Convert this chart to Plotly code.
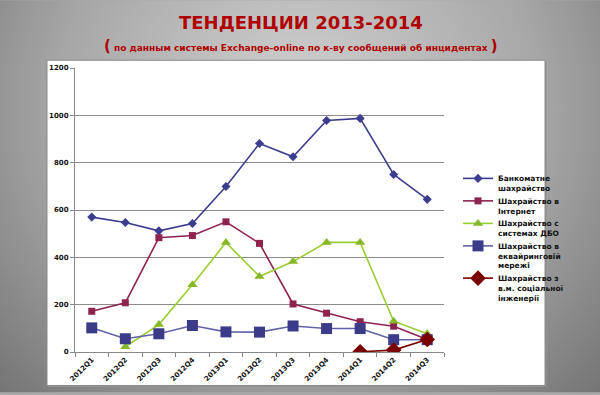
import plotly.graph_objects as go
import base64

categories = ["2012Q1", "2012Q2", "2012Q3", "2012Q4", "2013Q1", "2013Q2",
              "2013Q3", "2013Q4", "2014Q1", "2014Q2", "2014Q3"]

atm_fraud = [570, 547, 512, 543, 699, 881, 825, 978, 987, 750, 645]
internet_fraud = [172, 208, 483, 492, 550, 459, 203, 164, 128, 109, 53]
rbs_fraud = [None, 22, 116, 284, 463, 319, 382, 463, 463, 130, 77]
acquiring_fraud = [102, 56, 77, 112, 85, 84, 110, 99, 99, 52, 52]
social_fraud = [None, None, None, None, None, None, None, None, 1, 8, 53]

names = ["Банкоматне<br>шахрайство", "Шахрайство в<br>Інтернет",
         "Шахрайство с<br>системах ДБО", "Шахрайство в<br>еквайринговій<br>мережі",
         "Шахрайство з<br>в.м. соціальної<br>інженерії"]

yticks = [0, 200, 400, 600, 800, 1000, 1200]

fig = go.Figure()
styles = [
    (atm_fraud, "#3d3d8f", "#3d3d8f", "diamond", 7),
    (internet_fraud, "#8e2350", "#8e2350", "square", 7),
    (rbs_fraud, "#9acd32", "#86b82a", "triangle-up", 9),
    (acquiring_fraud, "#6262a6", "#3b3b8a", "square", 11),
    (social_fraud, "#7a0000", "#7a0000", "diamond", 12),
]
for i, ((vals, lc, mc, sym, ms), nm) in enumerate(zip(styles, names)):
    fig.add_trace(go.Scatter(
        x=categories, y=vals, name="<b>" + nm.replace("<br>", "</b><br><b>") + "</b>",
        mode="lines+markers", legendgroup=f"g{i}",
        line=dict(color=lc, width=1.6),
        marker=dict(symbol=sym, size=ms, color=mc),
        connectgaps=False,
    ))

# plot area in pixels: x 75..444, y 68.3..354.3
L, R, T, B = 75, 444, 68.3, 354.3
W, H = R - L, B - T
def px(x): return (x - L) / W
def py(y): return (B - y) / H

svg = """<svg xmlns='http://www.w3.org/2000/svg' width='600' height='395'>
<defs><radialGradient id='g' cx='300' cy='110' r='430' gradientUnits='userSpaceOnUse'>
<stop offset='0' stop-color='#d2d2d2'/><stop offset='0.55' stop-color='#a8a8a8'/>
<stop offset='1' stop-color='#707070'/></radialGradient></defs>
<rect width='600' height='395' fill='url(#g)'/></svg>"""
src = "data:image/svg+xml;base64," + base64.b64encode(svg.encode()).decode()

fig.update_layout(
    width=600, height=395,
    margin=dict(l=L, r=600 - R, t=T, b=395 - B),
    paper_bgcolor="#a8a8a8",
    plot_bgcolor="rgba(0,0,0,0)",
    font=dict(family="DejaVu Sans", color="#111111"),
    showlegend=True,
    legend=dict(x=px(458), y=py(168), xanchor="left", yanchor="top",
                font=dict(size=7.5, color="#111111", family="DejaVu Sans"),
                bgcolor="rgba(0,0,0,0)", itemwidth=30, tracegroupgap=5,
                traceorder="normal", valign="top"),
    images=[dict(source=src, xref="paper", yref="paper", x=px(0), y=py(0),
                 sizex=600 / W, sizey=395 / H, sizing="stretch",
                 xanchor="left", yanchor="top", layer="below")],
    shapes=[
        dict(type="rect", xref="paper", yref="paper", layer="below",
             x0=px(48), x1=px(546.5), y0=py(389.5), y1=py(61.5),
             fillcolor="#909090", line=dict(width=0)),
        dict(type="rect", xref="paper", yref="paper", layer="below",
             x0=px(47), x1=px(545), y0=py(388), y1=py(60.5),
             fillcolor="white", line=dict(color="#8a8a8a", width=1)),
    ],
    annotations=[
        dict(text="<b>ТЕНДЕНЦИИ 2013-2014</b>", xref="paper", yref="paper",
             x=px(301), y=py(22), showarrow=False, yanchor="middle",
             font=dict(size=18, color="#b00000", family="DejaVu Sans")),
        dict(text="<b><span style='font-size:15px'>(</span> по данным системы Exchange-online по к-ву сообщений об инцидентах <span style='font-size:15px'>)</span></b>",
             xref="paper", yref="paper", x=px(301), y=py(46), showarrow=False,
             yanchor="middle",
             font=dict(size=9, color="#b00000", family="DejaVu Sans")),
    ],
)
fig.update_xaxes(
    type="category", tickangle=-45, tickson="boundaries",
    ticks="outside", ticklen=4, tickcolor="#888888",
    showline=True, linecolor="#888888", linewidth=1,
    showgrid=False, tickfont=dict(size=7, family="DejaVu Sans", color="#111111"),
    tickprefix="<b>", ticksuffix="</b>",
    range=[-0.5, 10.5],
)
fig.update_yaxes(
    range=[0, 1200], tickvals=yticks, ticktext=[f"<b>{v}</b>" for v in yticks],
    ticks="outside", ticklen=4, tickcolor="#888888",
    showline=True, linecolor="#888888", linewidth=1,
    showgrid=True, gridcolor="#8c8c8c", gridwidth=1,
    tickfont=dict(size=7, family="DejaVu Sans", color="#111111"),
    zeroline=False,
)
fig.write_html("out.html", config={"displayModeBar": False},
               post_script="document.body.style.margin='0';document.body.style.overflow='hidden';")
